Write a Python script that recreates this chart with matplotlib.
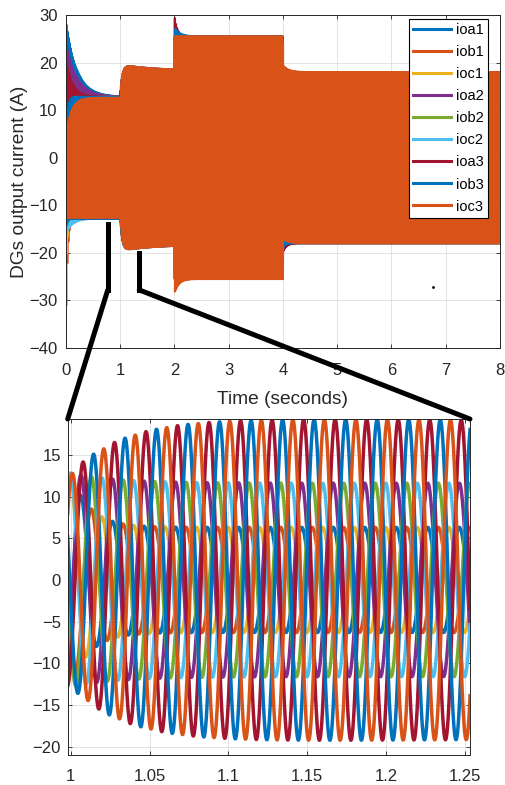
import numpy as np
import matplotlib
matplotlib.use('Agg')
import matplotlib.pyplot as plt
from matplotlib.patches import ConnectionPatch

plt.rcParams['font.family'] = ['Liberation Sans', 'DejaVu Sans']
plt.rcParams['agg.path.chunksize'] = 20000
plt.rcParams['path.simplify'] = False

# three-phase output currents of the three DGs (MATLAB default colour order)
names = ['ioa1', 'iob1', 'ioc1', 'ioa2', 'iob2', 'ioc2', 'ioa3', 'iob3', 'ioc3']
colors = ['#0072BD', '#D95319', '#EDB120', '#7E2F8E', '#77AC30', '#4DBEEE',
          '#A2142F', '#0072BD', '#D95319']
phase_deg = [-26, -146, 94, -26, -146, 94, -48, -168, 75]
freq = 50.0

# load steps (s)
seg_start = [0, 1, 2, 4]

# steady peak current reached in each interval (A)
amp_end = [
    [12.8, 12.8, 12.8, 12.8, 12.8, 12.8, 12.8, 12.8, 12.6],
    [6.3, 6.3, 6.3, 11.6, 11.6, 11.6, 18.3, 18.3, 18.3],
    [6.3, 6.3, 6.3, 11.6, 11.6, 11.6, 25.5, 25.5, 25.5],
    [6.3, 6.3, 6.3, 11.6, 11.6, 11.6, 18.0, 18.0, 18.0],
]
# upper / lower envelope right after each step (A)
upper0 = [
    [28.5, 10.0, 22.0, 24.0, 12.8, 11.0, 20.5, 5.0, 5.0],
    [12.8, 12.8, 12.8, 12.8, 12.8, 12.8, 12.8, 12.8, 12.6],
    [6.3, 6.3, 6.3, 11.6, 11.6, 11.6, 30.0, 27.3, 25.5],
    [6.3, 6.3, 6.3, 11.6, 11.6, 11.6, 16.4, 17.2, 19.4],
]
lower0 = [
    [-13.0, -33.0, -23.0, -12.8, -12.8, -16.0, -12.8, -14.6, -12.6],
    [-12.8, -12.8, -12.8, -12.8, -12.8, -12.8, -12.8, -12.8, -12.6],
    [-6.3, -6.3, -6.3, -11.6, -11.6, -11.6, -25.5, -25.5, -28.5],
    [-6.3, -6.3, -6.3, -11.6, -11.6, -11.6, -20.0, -19.2, -17.0],
]
# settling time constants (s)
tau = [
    [0.2, 0.03, 0.03, 0.2, 0.1, 0.12, 0.12, 0.03, 0.1],
    [0.012, 0.012, 0.012, 0.03, 0.03, 0.03, 0.035, 0.035, 0.035],
    [0.05, 0.05, 0.05, 0.05, 0.05, 0.05, 0.05, 0.1, 0.08],
    [0.05, 0.05, 0.05, 0.05, 0.05, 0.05, 0.06, 0.03, 0.1],
]
# slow overshoot of DG3 after the first load step (A)
bump = [
    [0, 0, 0, 0, 0, 0, 0, 0, 0],
    [0, 0, 0, 0, 0, 0, 1.3, 1.3, 1.3],
    [0, 0, 0, 0, 0, 0, 0, 0, 0],
    [0, 0, 0, 0, 0, 0, 0, 0, 0],
]
bump_tau = 0.6

stray_t, stray_y = [6.77], [-27.1]


def waveform(t, i):
    y = np.zeros_like(t)
    for k, t0 in enumerate(seg_start):
        t1 = seg_start[k + 1] if k + 1 < len(seg_start) else np.inf
        m = (t >= t0) & (t < t1)
        dt = t[m] - t0
        e = np.exp(-dt / tau[k][i])
        a0 = (upper0[k][i] - lower0[k][i]) / 2
        d0 = (upper0[k][i] + lower0[k][i]) / 2
        amp = amp_end[k][i] + (a0 - amp_end[k][i]) * e \
            + bump[k][i] * (1 - e) * np.exp(-dt / bump_tau)
        y[m] = amp * np.sin(2 * np.pi * freq * t[m] + np.radians(phase_deg[i])) + d0 * e
    return y


t_full = np.arange(0, 8.0001, 2.5e-4)
t_zoom = np.arange(0.995, 1.26, 5e-5)

fig = plt.figure(figsize=(5.06, 7.85), dpi=100)
ax1 = fig.add_axes([0.1304, 0.5567, 0.8577, 0.4242])
ax2 = fig.add_axes([0.1338, 0.0382, 0.795, 0.428])

for i, name in enumerate(names):
    ax1.plot(t_full, waveform(t_full, i), color=colors[i], lw=1.6, label=name)
    ax2.plot(t_zoom, waveform(t_zoom, i), color=colors[i], lw=2.5)
ax1.plot(stray_t, stray_y, 'k.', ms=2)

txt = '#262626'
for ax in (ax1, ax2):
    ax.grid(True, color='#dedede', lw=0.6)
    ax.set_axisbelow(True)
    ax.tick_params(direction='in', top=True, right=True, length=3, width=0.6,
                   colors=txt, labelsize=12)
    for s in ax.spines.values():
        s.set_color(txt)
        s.set_linewidth(0.7)

ax1.set_xlim(0, 8)
ax1.set_ylim(-40, 30)
ax1.set_xticks(range(0, 9))
ax1.set_yticks(range(-40, 31, 10))
ax1.tick_params(axis='x', pad=11)
ax1.tick_params(axis='y', pad=6)
ax1.set_xlabel('Time (seconds)', fontsize=13.8, color=txt, labelpad=9)
ax1.set_ylabel('DGs output current (A)', fontsize=13.8, color=txt, labelpad=1)

leg = ax1.legend(loc='upper right', bbox_to_anchor=(0.972, 0.988), borderaxespad=0,
                 fontsize=10.5, frameon=True, fancybox=False, framealpha=1,
                 edgecolor='#000000', handlelength=2.6, handletextpad=0.3,
                 labelspacing=0.55, borderpad=0.3)
leg.get_frame().set_linewidth(0.8)
for h in leg.get_lines():
    h.set_linewidth(2.2)

ax2.set_xlim(0.998, 1.2532)
ax2.set_ylim(-21, 19.3)
ax2.set_xticks([1, 1.05, 1.1, 1.15, 1.2, 1.25])
ax2.set_xticklabels(['1', '1.05', '1.1', '1.15', '1.2', '1.25'])
ax2.set_yticks(range(-20, 16, 5))
ax2.tick_params(axis='x', pad=10)
ax2.tick_params(axis='y', pad=5)

# zoom connectors
for x0, y0 in [(0.77, -14.0), (1.35, -20.0)]:
    ax1.plot([x0, x0], [y0, -27.8], color='k', lw=3.6, clip_on=False, zorder=10)
for x0, corner in [(0.77, (0, 1)), (1.35, (1, 1))]:
    con = ConnectionPatch(xyA=(x0, -27.8), coordsA=ax1.transData,
                          xyB=corner, coordsB=ax2.transAxes,
                          color='k', lw=3.6, zorder=10)
    fig.add_artist(con)

fig.savefig('out.png', dpi=100)
